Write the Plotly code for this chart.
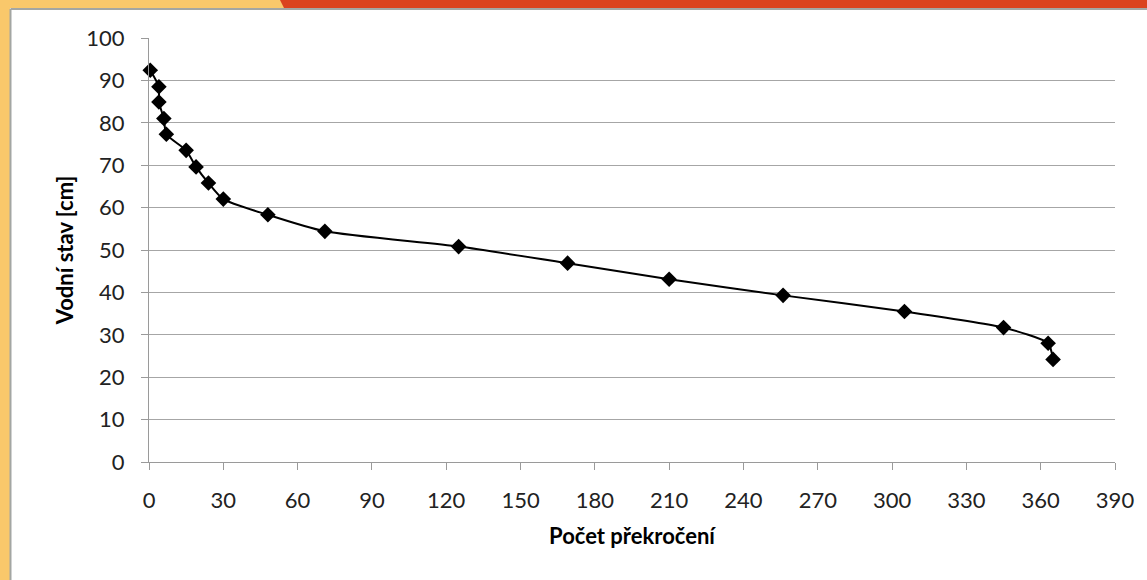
import plotly.graph_objects as go

# Data
pocet_prekroceni = [0.5, 4, 4, 6, 7, 15, 19, 24, 30, 48, 71, 125, 169, 210, 256, 305, 345, 363, 365]
vodni_stav = [92.4, 88.5, 84.9, 81.0, 77.3, 73.5, 69.6, 65.8, 62.0, 58.3, 54.4, 50.8, 46.9, 43.1, 39.3, 35.5, 31.7, 28.0, 24.2]

x_ticks = list(range(0, 391, 30))
y_ticks = list(range(0, 101, 10))

FONT = "Lato, 'Open Sans', sans-serif"

W, H = 1147, 580
L, R, T, B = 149, 32, 38, 118
pw, ph = W - L - R, H - T - B


def fx(x):
    return (x - L) / pw


def fy(y):
    return (H - B - y) / ph


fig = go.Figure()
fig.add_trace(go.Scatter(
    x=pocet_prekroceni, y=vodni_stav,
    mode="lines+markers",
    line=dict(color="black", width=2, shape="spline", smoothing=0.6),
    marker=dict(symbol="diamond", size=12, color="black"),
    showlegend=False,
    cliponaxis=False,
))

shapes = [
    dict(type="rect", xref="paper", yref="paper", x0=fx(0), x1=fx(10), y0=fy(H), y1=fy(0),
         fillcolor="#F9C86B", line=dict(width=0), layer="below"),
    dict(type="rect", xref="paper", yref="paper", x0=fx(0), x1=fx(284), y0=fy(8), y1=fy(0),
         fillcolor="#F9C86B", line=dict(width=0), layer="below"),
    dict(type="path", xref="paper", yref="paper",
         path=f"M {fx(280)},{fy(0)} L {fx(W)},{fy(0)} L {fx(W)},{fy(8)} L {fx(284)},{fy(8)} Z",
         fillcolor="#DB421D", line=dict(width=0), layer="below"),
    dict(type="line", xref="paper", yref="paper", x0=fx(10.5), x1=fx(W), y0=fy(9), y1=fy(9),
         line=dict(color="#A3A6A3", width=2), layer="below"),
    dict(type="line", xref="paper", yref="paper", x0=fx(10.5), x1=fx(10.5), y0=fy(9), y1=fy(H),
         line=dict(color="#A3A6A3", width=2), layer="below"),
]

fig.update_layout(
    width=W, height=H,
    margin=dict(l=L, r=R, t=T, b=B),
    paper_bgcolor="white", plot_bgcolor="white",
    font=dict(family=FONT, color="#222222"),
    shapes=shapes,
    xaxis=dict(
        range=[0, 390], tickvals=x_ticks, ticktext=[str(v) for v in x_ticks],
        showgrid=False, zeroline=False,
        showline=True, linecolor="#9a9a9a", linewidth=1,
        ticks="outside", ticklen=7, tickcolor="#9a9a9a",
        ticklabelstandoff=12,
        tickfont=dict(size=22, family=FONT, color="#222222"),
        title=dict(text="<b>Počet překročení</b>", font=dict(size=22, family=FONT, color="black"), standoff=16),
    ),
    yaxis=dict(
        range=[0, 100], tickvals=y_ticks, ticktext=[str(v) for v in y_ticks],
        showgrid=True, gridcolor="#a6a6a6", gridwidth=1,
        zeroline=False,
        showline=True, linecolor="#9a9a9a", linewidth=1,
        ticks="outside", ticklen=7, tickcolor="#9a9a9a",
        ticklabelstandoff=12,
        tickfont=dict(size=22, family=FONT, color="#222222"),
        title=dict(text="<b>Vodní stav [cm]</b>", font=dict(size=22, family=FONT, color="black"), standoff=6),
    ),
)

fig.write_html("out.html", config={"displayModeBar": False},
               post_script="document.body.style.margin='0';document.body.style.padding='0';")
